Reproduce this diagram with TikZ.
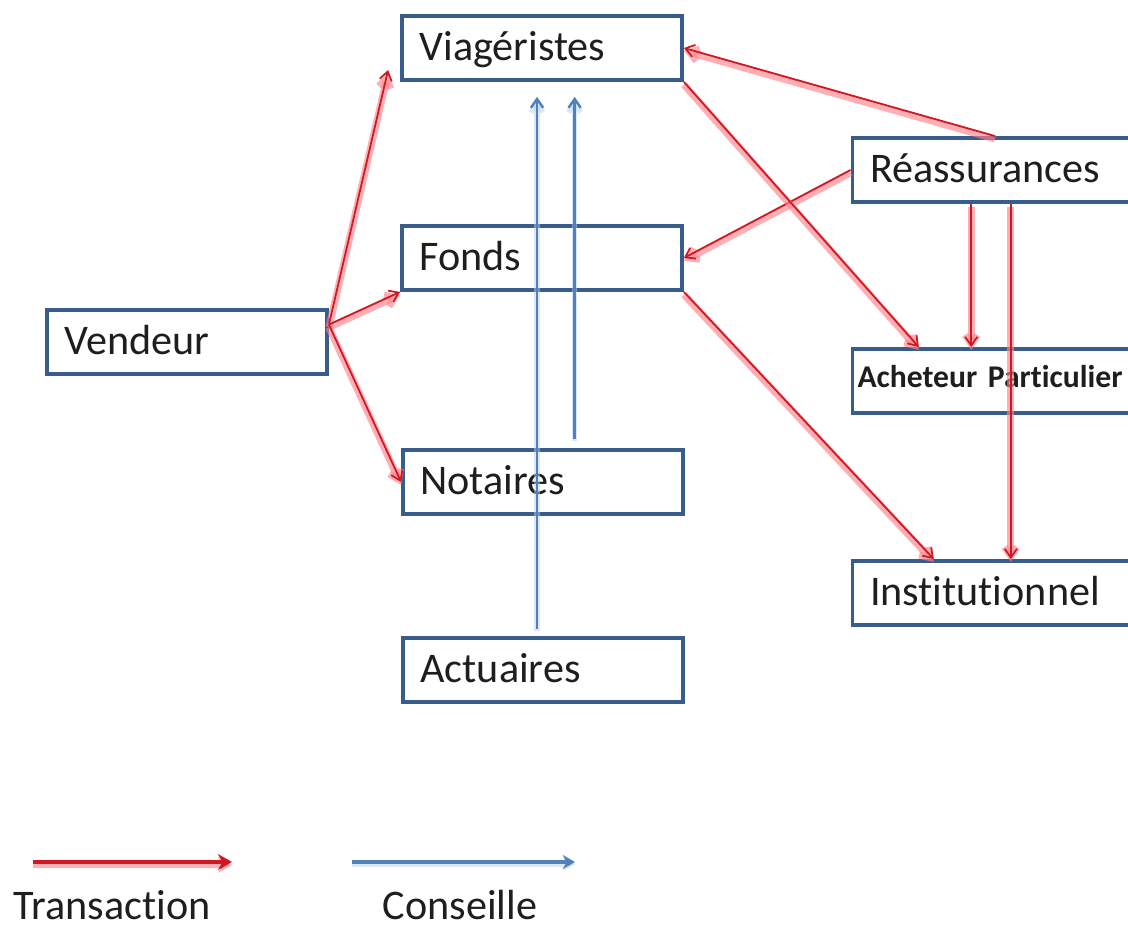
\documentclass[tikz,border=0pt]{standalone}
\usepackage{fontspec}
\setmainfont[Ligatures=NoCommon]{Carlito}
\usetikzlibrary{arrows.meta}

\definecolor{cadre}{RGB}{56,93,138}
\definecolor{rouge}{RGB}{208,24,34}
\definecolor{halo}{RGB}{255,130,140}
\definecolor{bleu}{RGB}{79,129,189}
\definecolor{halobleu}{RGB}{185,208,236}
\definecolor{texte}{RGB}{30,30,30}

\begin{document}
\begin{tikzpicture}[x=0.02cm, y=-0.02cm,
    boite/.style={draw=cadre, line width=2.2pt, minimum height=1.28cm,
      minimum width=5.6cm, text width=4.9cm, inner xsep=0.32cm, align=left,
      font=\fontsize{24}{28}\selectfont, text=texte,
      text height=16pt, text depth=2pt},
    boitedroite/.style={minimum width=5.7cm, text width=5.0cm},
    acheteur/.style={font=\fontsize{18}{20}\selectfont\bfseries,
      inner xsep=0.08cm, text width=5.5cm, text height=10pt, text depth=3pt},
    legende/.style={font=\fontsize{24}{28}\selectfont, text=texte, inner sep=0pt},
    transac/.style={draw=rouge, line width=1pt,
      -{Straight Barb[length=5pt,width=7pt]},
      preaction={draw=halo, line width=4pt, opacity=.65,
        transform canvas={yshift=-1.6pt}}},
    conseil/.style={draw=bleu, line width=1.4pt,
      -{Straight Barb[length=5pt,width=7pt]},
      preaction={draw=halobleu, line width=3pt, opacity=.5,
        transform canvas={yshift=-1.2pt}}}]
  \useasboundingbox (0,0) rectangle (1128,927);

  \node[boite] (viag) at (542,48) {Viagéristes};
  \node[boite] (fonds) at (542,258) {Fonds};
  \node[boite] (vend) at (187,342) {Vendeur};
  \node[boite] (not) at (543,482) {Notaires};
  \node[boite] (act) at (543,670) {Actuaires};
  \node[boite, boitedroite] (reass) at (995,170) {Réassurances};
  \node[boite, boitedroite, acheteur] (achet) at (995,381) {Acheteur Particulier};
  \node[boite, boitedroite] (inst) at (995,593) {Institutionnel};

  \draw[transac] (vend.7) -- ([shift={(-12,22)}]viag.west);
  \draw[transac] (vend.7) -- (fonds.south west);
  \draw[transac] (vend.7) -- (not.west);
  \draw[transac] (reass.north) -- (viag.east);
  \draw[transac] (reass.west) -- (fonds.east);
  \draw[transac] (viag.south east) -- (achet.156);
  \draw[transac] (reass.235) -- (reass.235 |- achet.north);
  \draw[transac] (reass.295) -- (reass.295 |- inst.north);
  \draw[transac] (fonds.south east) -- (inst.151);

  \draw[conseil, shorten <=4pt, shorten >=8.5pt] (act.100) -- (act.100 |- viag.south);
  \draw[conseil, shorten <=5pt, shorten >=8.5pt] (not.47) -- (not.47 |- viag.south);

  \coordinate (ta) at (33,862);
  \coordinate (tb) at (232,862);
  \coordinate (ca) at (352,862);
  \coordinate (cb) at (575,862);
  \draw[transac, line width=2.4pt, -{Stealth[length=8pt,width=9pt]}] (ta) -- (tb);
  \draw[conseil, line width=2pt, -{Stealth[length=7pt,width=8pt]}] (ca) -- (cb);
  \node[legende, anchor=base] (ltrans) at (112,919) {Transaction};
  \node[legende, anchor=base] (lcons) at (460,919) {Conseille};
\end{tikzpicture}
\end{document}
